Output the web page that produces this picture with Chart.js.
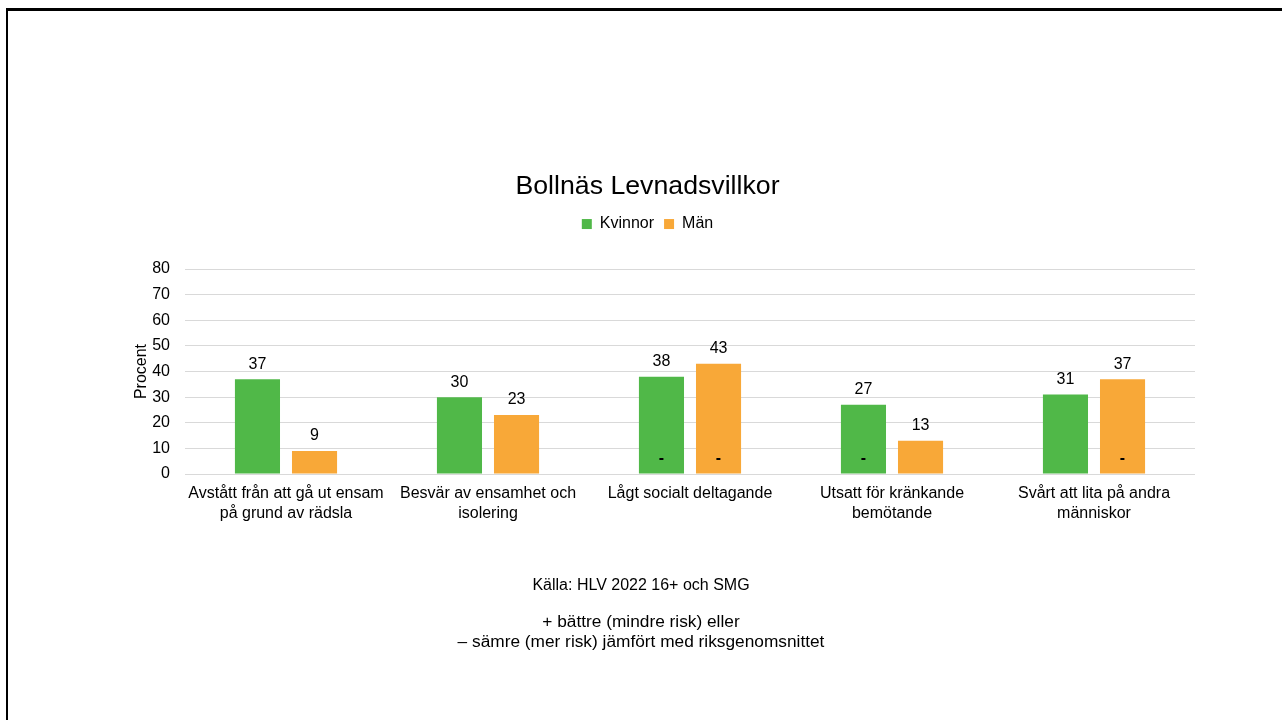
<!DOCTYPE html>
<html>
<head>
<meta charset="utf-8">
<script src="https://cdn.jsdelivr.net/npm/chart.js@4"></script>
<style>
  body { margin: 0; background: #fff; font-family: "Liberation Sans", Arial, sans-serif; }
  #frame { position: absolute; left: 6px; top: 8px; width: 1300px; height: 730px;
           border-top: 3px solid #000; border-left: 2px solid #000; }
  #wrap { position: absolute; left: 0; top: 0; width: 1282px; height: 720px; }
  .note { position: absolute; left: 0; width: 1282px; text-align: center; color: #000; }
</style>
</head>
<body>
<div id="frame"></div>
<div id="wrap"><canvas id="chart"></canvas></div>
<div class="note" style="top:576px; font-size:16px; line-height:18px;">Källa: HLV 2022 16+ och SMG</div>
<div class="note" style="top:611px; font-size:17.3px; line-height:20px;">+ bättre (mindre risk) eller<br>– sämre (mer risk) jämfört med riksgenomsnittet</div>
<script>
const categories = [
  ["Avstått från att gå ut ensam", "på grund av rädsla"],
  ["Besvär av ensamhet och", "isolering"],
  "Lågt socialt deltagande",
  ["Utsatt för kränkande", "bemötande"],
  ["Svårt att lita på andra", "människor"]
];
const kvinnor = [37, 30, 38, 27, 31];
const man = [9, 23, 43, 13, 37];
const markKvinnor = ["", "", "-", "-", ""];
const markMan = ["", "", "-", "", "-"];

Chart.defaults.font.family = '"Liberation Sans", Arial, sans-serif';
Chart.defaults.color = "#000";

const legendGap = {
  id: "legendGap",
  beforeInit(chart) {
    const fit = chart.legend.fit;
    chart.legend.fit = function () {
      fit.bind(chart.legend)();
      this.height += 27;
    };
  }
};

const barLabels = {
  id: "barLabels",
  afterDatasetsDraw(chart) {
    const ctx = chart.ctx;
    const marks = [markKvinnor, markMan];
    ctx.save();
    ctx.fillStyle = "#000";
    ctx.textAlign = "center";
    chart.data.datasets.forEach((ds, i) => {
      chart.getDatasetMeta(i).data.forEach((bar, j) => {
        ctx.font = '16px "Liberation Sans", Arial, sans-serif';
        ctx.textBaseline = "middle";
        ctx.fillText(ds.data[j], bar.x, bar.y - 15);
        if (marks[i][j]) {
          ctx.font = 'bold 16px "Liberation Sans", Arial, sans-serif';
          ctx.fillText(marks[i][j], bar.x, bar.base - 15);
        }
      });
    });
    ctx.restore();
  }
};

new Chart(document.getElementById("chart"), {
  type: "bar",
  data: {
    labels: categories,
    datasets: [
      { label: "Kvinnor", data: kvinnor, backgroundColor: "#50B848" },
      { label: "Män", data: man, backgroundColor: "#F8A838" }
    ]
  },
  options: {
    responsive: true,
    maintainAspectRatio: false,
    animation: false,
    categoryPercentage: 0.565,
    barPercentage: 0.79,
    layout: { padding: { top: 171, left: 100, right: 87, bottom: 194 } },
    plugins: {
      title: {
        display: true,
        text: "Bollnäs Levnadsvillkor",
        font: { size: 26.7, weight: "normal" },
        padding: { top: 0, bottom: 3 }
      },
      legend: {
        labels: { boxWidth: 10, boxHeight: 10, font: { size: 16 }, padding: 10 }
      },
      tooltip: { enabled: false }
    },
    scales: {
      x: {
        grid: { display: false },
        border: { display: false },
        ticks: { font: { size: 16, lineHeight: 1.25 }, maxRotation: 0, autoSkip: false, padding: 2 }
      },
      y: {
        min: 0,
        max: 80,
        afterFit(scale) { scale.width = 85; },
        ticks: { stepSize: 10, font: { size: 16 }, padding: 15 },
        grid: { color: "#d9d9d9", drawTicks: false },
        border: { display: false },
        title: { display: true, text: "Procent", font: { size: 16 }, padding: { top: 32, bottom: 0 } }
      }
    }
  },
  plugins: [legendGap, barLabels]
});
</script>
</body>
</html>
